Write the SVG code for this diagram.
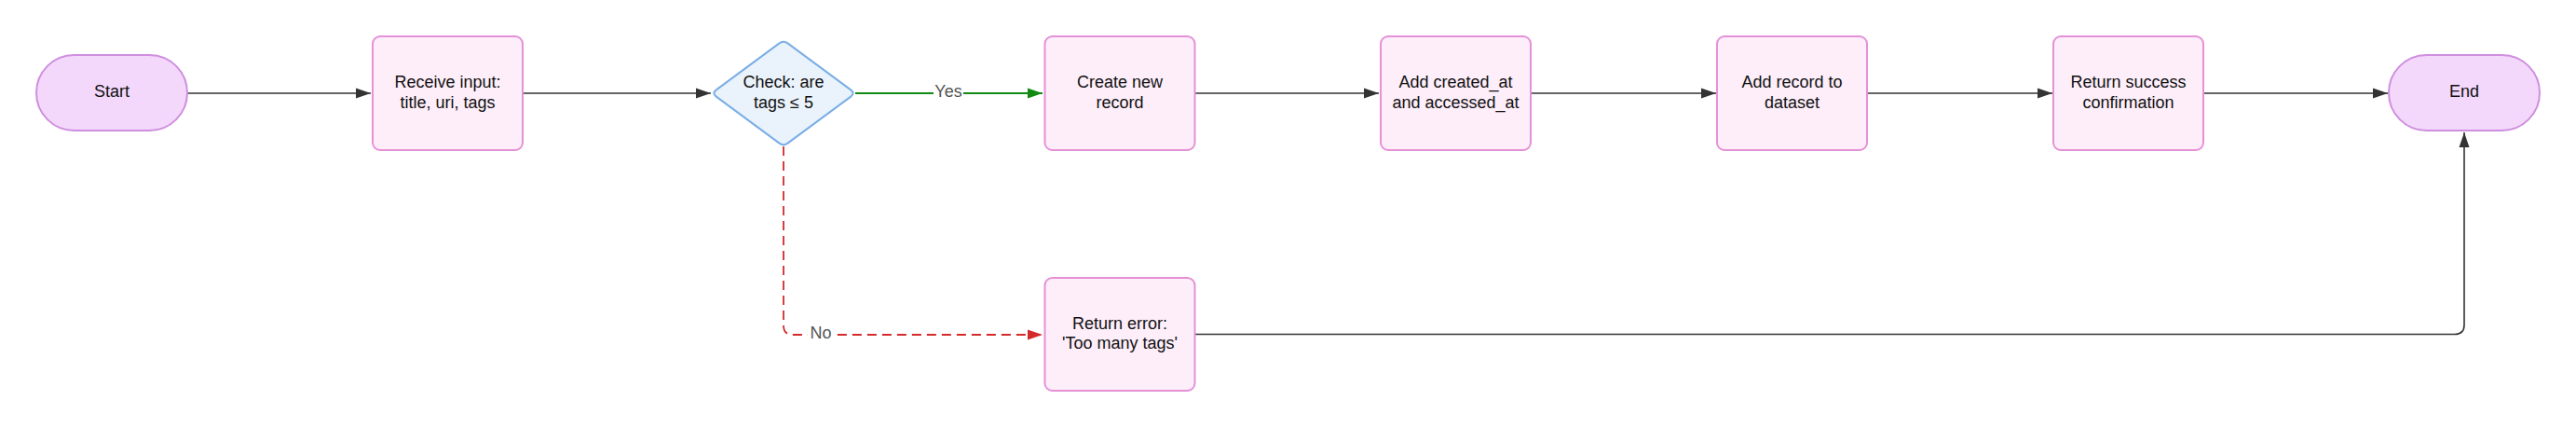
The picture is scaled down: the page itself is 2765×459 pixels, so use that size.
<svg xmlns="http://www.w3.org/2000/svg" width="2765" height="459" viewBox="0 0 2765 459">
<style>
  .term { fill: #f3d8fb; stroke: #cf8fde; stroke-width: 2; }
  .box { fill: #fdeefa; stroke: #e591d6; stroke-width: 2; }
  .dia { fill: #eaf3fc; stroke: #7aaee5; stroke-width: 2; }
  .t { font-family: "Liberation Sans", Arial, sans-serif; font-size: 18px; fill: #111; text-anchor: middle; }
  .lbl { font-family: "Liberation Sans", Arial, sans-serif; font-size: 18px; fill: #555; text-anchor: middle; }
  .lblbg { fill: #ffffff; }
  .edge { fill: none; stroke: #333; stroke-width: 1.6; }
  .yes { fill: none; stroke: #128a12; stroke-width: 2.2; }
  .no { fill: none; stroke: #d42a2a; stroke-width: 1.8; stroke-dasharray: 10 6; }
</style>
<defs>
  <marker id="arr" markerUnits="userSpaceOnUse" markerWidth="16" markerHeight="12" refX="16" refY="6" orient="auto">
    <path d="M0,0.5 L16,6 L0,11.5 z" fill="#333"/>
  </marker>
  <marker id="arrG" markerUnits="userSpaceOnUse" markerWidth="16" markerHeight="12" refX="16" refY="6" orient="auto">
    <path d="M0,0.5 L16,6 L0,11.5 z" fill="#128a12"/>
  </marker>
  <marker id="arrR" markerUnits="userSpaceOnUse" markerWidth="16" markerHeight="12" refX="16" refY="6" orient="auto">
    <path d="M0,0.5 L16,6 L0,11.5 z" fill="#d42a2a"/>
  </marker>
</defs>

<g id="connectors">
  <path class="edge" d="M201,100 L398,100" marker-end="url(#arr)"/>
  <path class="edge" d="M561,100 L763,100" marker-end="url(#arr)"/>
  <path class="yes" d="M918,100 L1119,100" marker-end="url(#arrG)"/>
  <path class="edge" d="M1283,100 L1480,100" marker-end="url(#arr)"/>
  <path class="edge" d="M1643,100 L1842,100" marker-end="url(#arr)"/>
  <path class="edge" d="M2004,100 L2203,100" marker-end="url(#arr)"/>
  <path class="edge" d="M2365,100 L2563,100" marker-end="url(#arr)"/>
  <path class="no" d="M841,157 L841,349 Q841,359 851,359 L1119,359" marker-end="url(#arrR)"/>
  <path class="edge" d="M1282,358.5 L2635,358.5 Q2645,358.5 2645,348.5 L2645,142" marker-end="url(#arr)"/>
  <g id="label-yes">
    <rect class="lblbg" x="1002" y="88" width="32" height="22"/>
    <text class="lbl" x="1018" y="104">Yes</text>
  </g>
  <g id="label-no">
    <rect class="lblbg" x="867" y="347" width="28" height="22"/>
    <text class="lbl" x="881" y="363">No</text>
  </g>
</g>

<g id="start">
  <rect class="term" x="39" y="59" width="162" height="81" rx="40.5" ry="40.5"/>
  <text class="t" x="120" y="104">Start</text>
</g>
<g id="receive">
  <rect class="box" x="400" y="39" width="161" height="122" rx="8" ry="8"/>
  <text class="t" x="480.5" y="94">Receive input:</text>
  <text class="t" x="480.5" y="115.5">title, uri, tags</text>
</g>
<g id="check">
  <path class="dia" d="M768.8,96.4 L836.2,46.6 Q841,43 845.8,46.6 L913.2,96.4 Q918,100 913.2,103.6 L845.8,153.4 Q841,157 836.2,153.4 L768.8,103.6 Q764,100 768.8,96.4 Z"/>
  <text class="t" x="841" y="94">Check: are</text>
  <text class="t" x="841" y="115.5">tags ≤ 5</text>
</g>
<g id="create">
  <rect class="box" x="1121.5" y="39" width="161" height="122" rx="8" ry="8"/>
  <text class="t" x="1202" y="94">Create new</text>
  <text class="t" x="1202" y="115.5">record</text>
</g>
<g id="timestamps">
  <rect class="box" x="1482" y="39" width="161" height="122" rx="8" ry="8"/>
  <text class="t" x="1562.5" y="94">Add created_at</text>
  <text class="t" x="1562.5" y="115.5">and accessed_at</text>
</g>
<g id="dataset">
  <rect class="box" x="1843" y="39" width="161" height="122" rx="8" ry="8"/>
  <text class="t" x="1923.5" y="94">Add record to</text>
  <text class="t" x="1923.5" y="115.5">dataset</text>
</g>
<g id="success">
  <rect class="box" x="2204" y="39" width="161" height="122" rx="8" ry="8"/>
  <text class="t" x="2284.5" y="94">Return success</text>
  <text class="t" x="2284.5" y="115.5">confirmation</text>
</g>
<g id="end">
  <rect class="term" x="2564" y="59" width="162" height="81" rx="40.5" ry="40.5"/>
  <text class="t" x="2645" y="104">End</text>
</g>
<g id="error">
  <rect class="box" x="1121.5" y="298" width="161" height="121" rx="8" ry="8"/>
  <text class="t" x="1202" y="352.5">Return error:</text>
  <text class="t" x="1202" y="374">'Too many tags'</text>
</g>
</svg>
